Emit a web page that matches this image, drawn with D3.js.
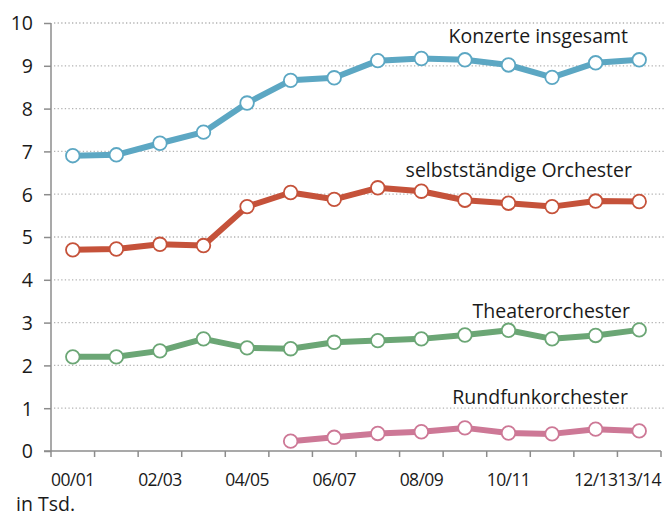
<!DOCTYPE html>
<html>
<head>
<meta charset="utf-8">
<script src="https://cdn.jsdelivr.net/npm/d3@7"></script>
<style>
  body { margin: 0; background: #fff; }
  svg { display: block; font-family: "Open Sans", "Noto Sans", sans-serif; }
</style>
</head>
<body>
<svg id="chart" width="666" height="517"></svg>
<script>
// Daten (in Tsd.)
const seasons = ["00/01", "01/02", "02/03", "03/04", "04/05", "05/06", "06/07",
  "07/08", "08/09", "09/10", "10/11", "11/12", "12/13", "13/14"];
const shownLabels = ["00/01", "02/03", "04/05", "06/07", "08/09", "10/11", "12/13", "13/14"];
const yTicks = [0, 1, 2, 3, 4, 5, 6, 7, 8, 9, 10];

const konzerte = [6.90, 6.92, 7.19, 7.45, 8.13, 8.66, 8.72, 9.12, 9.17, 9.14, 9.02, 8.73, 9.07, 9.14];
const selbststaendige = [4.70, 4.72, 4.83, 4.80, 5.71, 6.04, 5.88, 6.15, 6.07, 5.86, 5.79, 5.71, 5.84, 5.83];
const theater = [2.20, 2.20, 2.34, 2.62, 2.41, 2.39, 2.54, 2.58, 2.62, 2.71, 2.82, 2.62, 2.70, 2.83];
const rundfunk = [null, null, null, null, null, 0.23, 0.32, 0.41, 0.45, 0.54, 0.42, 0.40, 0.51, 0.47];

const series = [
  { name: "Konzerte insgesamt", values: konzerte, color: "#5ca7c3", lx: 628, ly: 43 },
  { name: "selbstständige Orchester", values: selbststaendige, color: "#c5523a", lx: 632, ly: 177 },
  { name: "Theaterorchester", values: theater, color: "#6ba675", lx: 630, ly: 318 },
  { name: "Rundfunkorchester", values: rundfunk, color: "#cd7896", lx: 628, ly: 404 }
];

const fs = "19.5px";
const svg = d3.select("#chart");
const margin = { top: 23, right: 5, bottom: 66, left: 51 };
const width = 666 - margin.right;
const height = 517 - margin.bottom;

const x = d3.scaleBand()
  .domain(seasons)
  .range([margin.left, width])
  .padding(0);

const y = d3.scaleLinear()
  .domain([0, 10])
  .range([height, margin.top]);

const cx = d => x(d) + x.bandwidth() / 2;

// Gitterlinien (gepunktet)
svg.append("g")
  .selectAll("line")
  .data(yTicks.filter(t => t > 0))
  .enter()
  .append("line")
  .attr("x1", margin.left + 3)
  .attr("x2", 666)
  .attr("y1", d => y(d))
  .attr("y2", d => y(d))
  .attr("stroke", "#b3b3b3")
  .attr("stroke-width", 1.3)
  .attr("stroke-dasharray", "1.3,2.3");

// Y-Achse
const yAxis = svg.append("g")
  .attr("transform", `translate(${margin.left},0)`)
  .call(d3.axisLeft(y).tickValues(yTicks).tickSize(7).tickPadding(11));
yAxis.selectAll("path, line").attr("stroke", "#8c8c8c").attr("stroke-width", 1.5);
yAxis.select(".domain").attr("d", `M0,${height}V${margin.top}`);
yAxis.selectAll("text")
  .attr("fill", "#1a1a1a")
  .attr("dy", "0.35em")
  .style("font-size", fs)
  .style("font-family", "\"Open Sans\", sans-serif");

// X-Achse: Ticks an Bandgrenzen
const xAxis = svg.append("g")
  .attr("transform", `translate(0,${height})`);
xAxis.append("line")
  .attr("x1", margin.left - 7)
  .attr("x2", width)
  .attr("y1", 0)
  .attr("y2", 0)
  .attr("stroke", "#8c8c8c")
  .attr("stroke-width", 1.5);
const edges = seasons.map(s => x(s)).concat([width]);
xAxis.selectAll(".tick-edge")
  .data(edges)
  .enter()
  .append("line")
  .attr("class", "tick-edge")
  .attr("x1", d => d)
  .attr("x2", d => d)
  .attr("y1", 0)
  .attr("y2", 6)
  .attr("stroke", "#8c8c8c")
  .attr("stroke-width", 1.5);
xAxis.selectAll(".xlabel")
  .data(shownLabels)
  .enter()
  .append("text")
  .attr("class", "xlabel")
  .attr("x", d => cx(d))
  .attr("y", 35)
  .attr("text-anchor", "middle")
  .attr("fill", "#1a1a1a")
  .style("font-size", "17.5px")
  .style("letter-spacing", "-0.6px")
  .text(d => d);

svg.append("text")
  .attr("x", 16)
  .attr("y", 511)
  .attr("fill", "#1a1a1a")
  .style("font-size", fs)
  .text("in Tsd.");

// Linien + Punkte
const line = d3.line()
  .defined(d => d.v !== null)
  .x(d => cx(d.s))
  .y(d => y(d.v));

series.forEach(se => {
  const pts = seasons.map((s, i) => ({ s: s, v: se.values[i] }));
  svg.append("path")
    .datum(pts)
    .attr("d", line)
    .attr("fill", "none")
    .attr("stroke", se.color)
    .attr("stroke-width", 6)
    .attr("stroke-linejoin", "round");
  svg.append("g")
    .selectAll("circle")
    .data(pts.filter(d => d.v !== null))
    .enter()
    .append("circle")
    .attr("cx", d => cx(d.s))
    .attr("cy", d => y(d.v))
    .attr("r", 6.8)
    .attr("fill", "#fff")
    .attr("stroke", se.color)
    .attr("stroke-width", 1.8);
  svg.append("text")
    .attr("x", se.lx)
    .attr("y", se.ly)
    .attr("text-anchor", "end")
    .attr("fill", "#1a1a1a")
    .style("font-size", fs)
    .text(se.name);
});
</script>
</body>
</html>
